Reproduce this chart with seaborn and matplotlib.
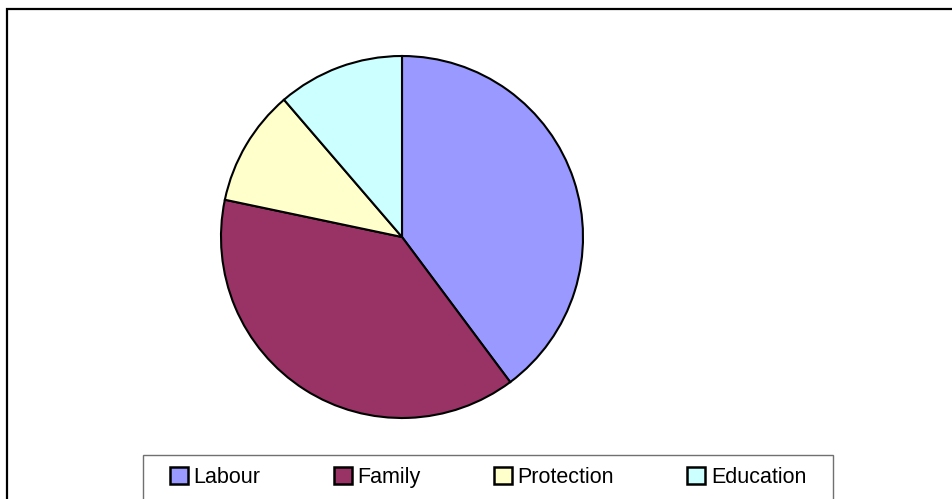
import matplotlib
matplotlib.use("Agg")
import matplotlib.pyplot as plt
from matplotlib.patches import Rectangle, Patch
import seaborn as sns

categories = ["Labour", "Family", "Protection", "Education"]
shares = [39.8, 38.5, 10.4, 11.3]
colors = ["#9999FF", "#993366", "#FFFFCC", "#CCFFFF"]

sns.set_style("white")
plt.rcParams["font.family"] = ["Liberation Sans", "DejaVu Sans"]
plt.rcParams["text.color"] = "black"

W, H = 953, 499
fig = plt.figure(figsize=(W / 100, H / 100), dpi=100)
fig.patch.set_facecolor("white")


def fx(px):
    return px / W


def fy(py):
    return 1 - py / H


# outer chart frame (runs past the right and bottom edges)
fig.patches.append(Rectangle((fx(7.5), fy(520)), fx(1000 - 7.5), (520 - 9.3) / H,
                             transform=fig.transFigure, fill=False,
                             edgecolor="black", linewidth=1.6, clip_on=False))

# pie area: centre (402, 237), radius 181 px
cx, cy, r = 402, 237, 181
ax = fig.add_axes([fx(cx - r), fy(cy + r), 2 * r / W, 2 * r / H])
ax.pie(shares, colors=colors, startangle=90, counterclock=False, radius=1,
       wedgeprops=dict(edgecolor="black", linewidth=1.5))
ax.set_xlim(-1, 1)
ax.set_ylim(-1, 1)
ax.set_aspect("auto")
ax.axis("off")

# legend box
fig.patches.append(Rectangle((fx(143), fy(520)), (833 - 143) / W, (520 - 455) / H,
                             transform=fig.transFigure, fill=False,
                             edgecolor="#707070", linewidth=1.0, clip_on=False))

handles = [Patch(facecolor=c, edgecolor="black", linewidth=1.8, label=l)
           for c, l in zip(colors, categories)]
leg = fig.legend(handles=handles, loc="center", ncol=4, frameon=False,
                 bbox_to_anchor=(fx(488), fy(477.5)), fontsize=15.5,
                 handlelength=0.85, handleheight=0.85, handletextpad=0.25,
                 columnspacing=3.4, borderpad=0, borderaxespad=0)
for t in leg.get_texts():
    t.set_color("black")

fig.savefig("out.png", dpi=100, facecolor="white")
